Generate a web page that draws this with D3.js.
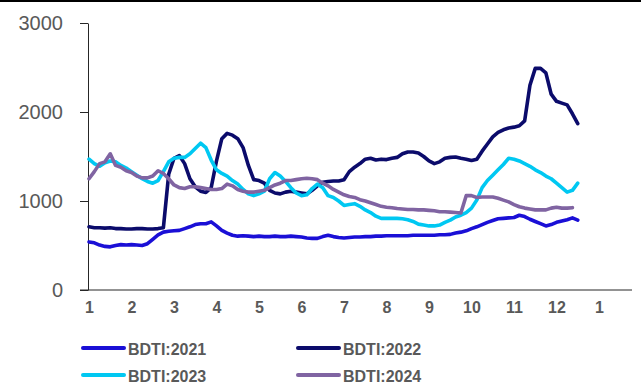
<!DOCTYPE html>
<html>
<head>
<meta charset="utf-8">
<script src="https://cdn.jsdelivr.net/npm/d3@7"></script>
<style>
  body { margin: 0; background: #fff; }
  svg { display: block; font-family: "Liberation Sans", Arial, sans-serif; }
</style>
</head>
<body>
<div id="chart"></div>
<script>
// BDTI by year, sampled every 1/8 month starting at month 1
const monthTicks = [1, 2, 3, 4, 5, 6, 7, 8, 9, 10, 11, 12, 13];
const monthLabels = ["1", "2", "3", "4", "5", "6", "7", "8", "9", "10", "11", "12", "1"];
const yTicks = [0, 1000, 2000, 3000];
const sampleStep = 1 / 8;

const bdti2021 = [540, 530, 505, 490, 485, 500, 510, 505, 510, 505, 500, 520, 570, 620, 650, 660,
  665, 670, 690, 710, 735, 745, 745, 765, 720, 670, 640, 615, 605, 610, 605, 600,
  605, 600, 600, 605, 600, 600, 605, 600, 595, 585, 580, 580, 600, 615, 600, 590,
  585, 590, 595, 595, 600, 600, 605, 605, 610, 610, 610, 610, 610, 615, 615, 615,
  615, 615, 620, 620, 625, 640, 650, 665, 690, 710, 735, 760, 780, 800, 805, 810,
  815, 840, 825, 795, 770, 745, 720, 735, 760, 775, 790, 810, 785];

const bdti2022 = [710, 700, 700, 695, 700, 690, 690, 685, 685, 690, 690, 685, 685, 690, 700, 1300,
  1480, 1510, 1420, 1250, 1160, 1110, 1095, 1150, 1450, 1700, 1760, 1740, 1700, 1600, 1400, 1240,
  1230, 1200, 1120, 1090, 1080, 1100, 1110, 1100, 1090, 1080, 1120, 1170, 1210, 1220, 1225, 1225,
  1240, 1330, 1380, 1420, 1470, 1480, 1460, 1470, 1465, 1480, 1490, 1530, 1550, 1550, 1540, 1500,
  1450, 1420, 1440, 1480, 1490, 1495, 1480, 1470, 1455, 1470, 1560, 1640, 1720, 1770, 1800, 1820,
  1830, 1845, 1900, 2300, 2490, 2490, 2440, 2200, 2120, 2100, 2080, 1980, 1870];

const bdti2023 = [1470, 1420, 1390, 1430, 1450, 1440, 1400, 1370, 1330, 1290, 1250, 1220, 1200, 1230, 1330, 1440,
  1480, 1490, 1490, 1530, 1590, 1650, 1600, 1460, 1350, 1310, 1280, 1230, 1190, 1130, 1080, 1060,
  1080, 1110, 1250, 1320, 1280, 1220, 1150, 1090, 1060, 1070, 1140, 1190, 1150, 1060, 1040, 1000,
  950, 960, 970, 940, 900, 870, 830, 805, 805, 805, 805, 800, 790, 770, 740, 730,
  720, 720, 730, 760, 785, 820, 840, 870, 920, 1010, 1150, 1230, 1290, 1350, 1410, 1480,
  1470, 1450, 1420, 1390, 1350, 1320, 1280, 1250, 1200, 1150, 1100, 1120, 1200];

const bdti2024 = [1250, 1330, 1420, 1440, 1530, 1400, 1380, 1340, 1320, 1280, 1260, 1260, 1280, 1340, 1310, 1250,
  1180, 1150, 1140, 1160, 1160, 1150, 1140, 1130, 1130, 1140, 1190, 1170, 1130, 1110, 1100, 1100,
  1110, 1120, 1150, 1180, 1200, 1230, 1230, 1240, 1250, 1255, 1250, 1240, 1200, 1170, 1130, 1100,
  1070, 1050, 1040, 1015, 1000, 980, 960, 940, 930, 925, 915, 910, 905, 905, 900, 900,
  895, 890, 880, 880, 875, 870, 865, 1060, 1060, 1040, 1045, 1045, 1045, 1030, 1010, 990,
  960, 935, 920, 910, 900, 900, 900, 920, 930, 920, 920, 925];

const series = [
  {name: "BDTI:2021", color: "#1a0fd6", values: bdti2021},
  {name: "BDTI:2022", color: "#0b0b6b", values: bdti2022},
  {name: "BDTI:2023", color: "#00c8f2", values: bdti2023},
  {name: "BDTI:2024", color: "#8064a2", values: bdti2024}
];

const width = 641, height = 386;
const textColor = "#595959";

const svg = d3.select("#chart").append("svg")
  .attr("width", width)
  .attr("height", height);

// thin frame edge at the very top
svg.append("rect")
  .attr("x", 0).attr("y", 0)
  .attr("width", width).attr("height", 2)
  .attr("fill", "#000");

const x = d3.scaleLinear().domain([1, 13]).range([89, 599]);
const y = d3.scaleLinear().domain([0, 3000]).range([290, 23]);

// y axis
const yAxis = svg.append("g")
  .attr("transform", "translate(88,0)")
  .call(d3.axisLeft(y).tickValues(yTicks).tickFormat(d3.format("d"))
    .tickSize(8).tickSizeOuter(0).tickPadding(17));
yAxis.select(".domain").attr("stroke", "#262626").attr("stroke-width", 1);
yAxis.selectAll(".tick line").attr("stroke", "#262626");
yAxis.selectAll(".tick text")
  .attr("fill", textColor)
  .attr("font-size", "20px")
  .attr("font-family", "Liberation Sans, Arial, sans-serif");

// x axis
const xAxis = svg.append("g")
  .attr("transform", "translate(0,290)")
  .call(d3.axisBottom(x).tickValues(monthTicks).tickFormat((d, i) => monthLabels[i])
    .tickSize(0).tickPadding(12));
xAxis.select(".domain").remove();
xAxis.append("line")
  .attr("x1", 80).attr("x2", 632)
  .attr("stroke", "#262626");
xAxis.selectAll(".tick text")
  .attr("fill", textColor)
  .attr("font-size", "16px")
  .attr("font-weight", "bold")
  .attr("font-family", "Liberation Sans, Arial, sans-serif");

// lines
const line = d3.line()
  .x((d, i) => x(1 + i * sampleStep))
  .y(d => y(d));

svg.append("g")
  .attr("fill", "none")
  .attr("stroke-width", 3.6)
  .attr("stroke-linejoin", "round")
  .attr("stroke-linecap", "round")
  .selectAll("path")
  .data(series)
  .join("path")
  .attr("stroke", d => d.color)
  .attr("d", d => line(d.values));

// legend
const legend = svg.append("g")
  .selectAll("g")
  .data(series)
  .join("g")
  .attr("transform", (d, i) => `translate(${i % 2 === 0 ? 83 : 298}, ${i < 2 ? 348 : 375})`);

legend.append("line")
  .attr("x1", 0).attr("x2", 41)
  .attr("stroke", d => d.color)
  .attr("stroke-width", 4)
  .attr("stroke-linecap", "round");

legend.append("text")
  .attr("x", 45)
  .attr("y", 7)
  .attr("fill", textColor)
  .attr("font-size", "16px")
  .attr("font-weight", "bold")
  .text(d => d.name);
</script>
</body>
</html>
